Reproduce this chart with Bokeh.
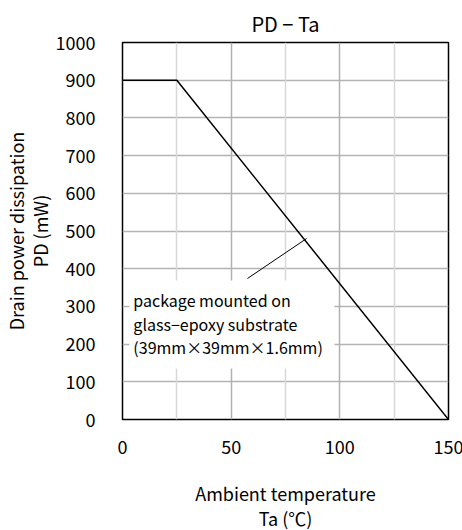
from bokeh.plotting import figure
from bokeh.models import Range1d, FixedTicker, Grid
from bokeh.core.properties import value
from bokeh.embed import file_html
from bokeh.resources import INLINE

FONT = "Noto Sans CJK JP"

# data
ta = [0, 25, 150]
pd_mw = [900, 900, 0]
x_ticks = [0, 50, 100, 150]
y_ticks = [0, 100, 200, 300, 400, 500, 600, 700, 800, 900, 1000]
minor_x = [25, 75, 125]
major_x = [50, 100]
note_lines = ["package mounted on", "glass\u2212epoxy substrate", "(39mm\u00d739mm\u00d71.6mm)"]
note_y = [316, 253, 192]
note_x = [5.0, 5.0, 5.0]
leader_x = [57.5, 84.7]
leader_y = [374, 480]
box = dict(left=[3.2], right=[97.5], bottom=[135], top=[369])

p = figure(frame_width=326, frame_height=377, output_backend="svg", toolbar_location=None,
           x_range=Range1d(0, 150), y_range=Range1d(0, 1000),
           min_border_left=121, min_border_right=15, min_border_top=42, min_border_bottom=111,
           title="PD \u2212 Ta")
p.title.align = "center"
p.title.text_font = FONT
p.title.text_font_size = "20px"
p.title.text_font_style = "normal"
p.title.text_color = "black"
p.title.standoff = 10

p.outline_line_color = "black"
p.outline_line_width = 1.5
p.background_fill_color = "white"
p.border_fill_color = "white"

p.xgrid.visible = False
p.ygrid.ticker = FixedTicker(ticks=y_ticks)
p.ygrid.grid_line_color = "#b4b4b4"
p.ygrid.grid_line_width = 1.5
g1 = Grid(dimension=0, ticker=FixedTicker(ticks=major_x), grid_line_color="#b0b0b0", grid_line_width=1.5)
g2 = Grid(dimension=0, ticker=FixedTicker(ticks=minor_x), grid_line_color="#d8d8d8", grid_line_width=1.5)
p.add_layout(g1)
p.add_layout(g2)

for ax in (p.xaxis[0], p.yaxis[0]):
    ax.major_tick_line_color = None
    ax.minor_tick_line_color = None
    ax.axis_line_color = None
    ax.major_label_text_font = FONT
    ax.major_label_text_font_size = "18px"
    ax.major_label_text_color = "black"
    ax.axis_label_text_font = FONT
    ax.axis_label_text_font_size = "18px"
    ax.axis_label_text_font_style = "normal"
    ax.axis_label_text_color = "black"

p.xaxis.axis_label_text_line_height = 0.97
p.yaxis.axis_label_text_line_height = 0.9
p.xaxis.ticker = FixedTicker(ticks=x_ticks)
p.yaxis.ticker = FixedTicker(ticks=y_ticks)
p.xaxis.major_label_standoff = 14
p.yaxis.major_label_standoff = 21
p.xaxis.axis_label = "Ambient temperature\nTa (\u2103)"
p.yaxis.axis_label = "Drain power dissipation\nPD (mW)"
p.xaxis.axis_label_standoff = 23
p.yaxis.axis_label_standoff = 0

p.quad(fill_color="white", line_color=None, **box)
p.line(ta, pd_mw, line_color="black", line_width=1.5)
p.line(leader_x, leader_y, line_color="black", line_width=1)
p.text(x=note_x, y=note_y, text=note_lines, text_font=value(FONT), text_font_size="16px",
       text_baseline="middle", text_align="left", text_color="black")

open("out.html", "w").write(file_html(p, INLINE))
